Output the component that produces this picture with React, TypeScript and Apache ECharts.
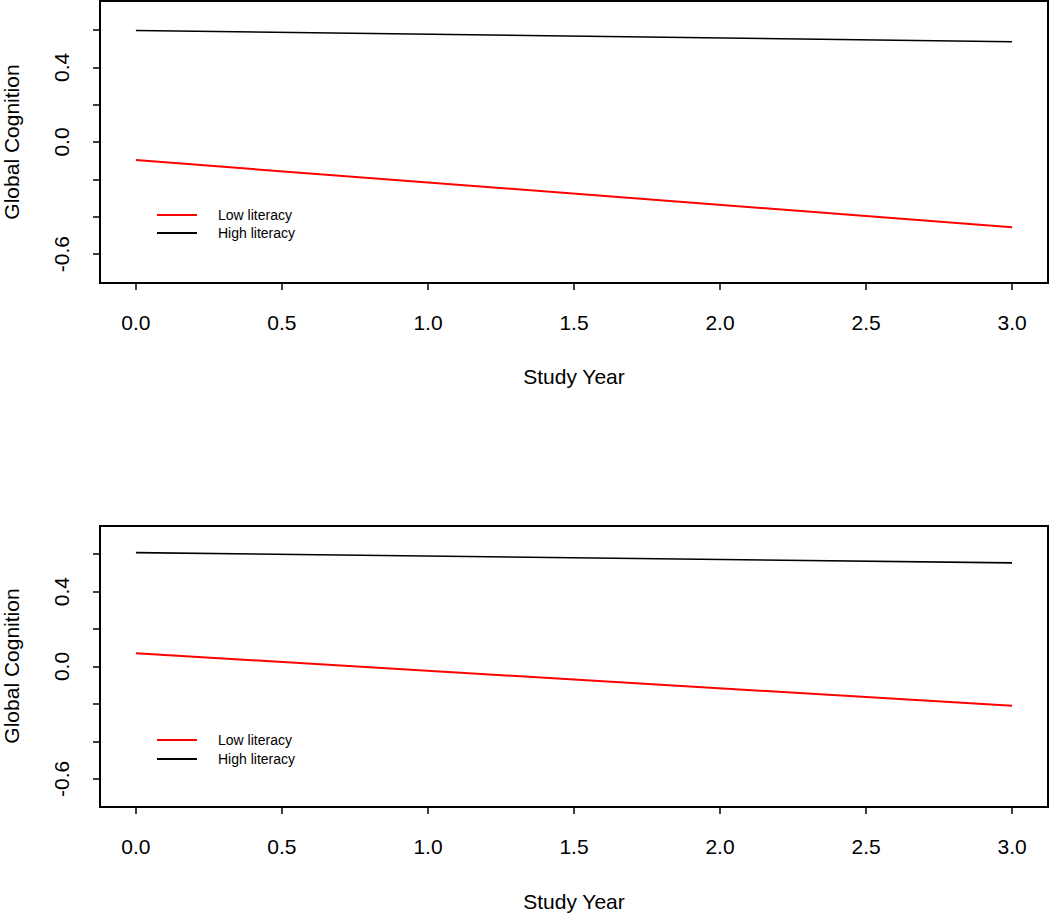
import React, { useEffect, useRef } from "react";
import * as echarts from "echarts";

const years = [0, 3];
const topLow = [-0.097, -0.456];
const topHigh = [0.597, 0.537];
const bottomLow = [0.071, -0.21];
const bottomHigh = [0.608, 0.553];
const seriesNames = ["Low literacy", "High literacy"];
const xTicks = [0, 0.5, 1, 1.5, 2, 2.5, 3];
const yTicks = [-0.6, -0.4, -0.2, 0, 0.2, 0.4, 0.6];
const yLabelTicks = [-0.6, 0, 0.4];

const FONT = "Liberation Sans, Arial, Helvetica, sans-serif";
const RED = "#ff0000";
const BLACK = "#000000";

const toPts = (vals: number[]) => years.map((x, i) => [x, vals[i]]);

export default function App() {
  const ref = useRef<HTMLDivElement>(null);
  useEffect(() => {
    document.body.style.margin = "0";
    if (!ref.current) return;
    const chart = echarts.init(ref.current, undefined, { renderer: "svg" });

    const grids = [
      { left: 100, top: 1, width: 948, height: 282 },
      { left: 100, top: 526, width: 948, height: 281 },
    ];
    const yRanges = [0.755, 0.75];

    const xAxis = grids.map((_, i) => ({
      type: "value",
      gridIndex: i,
      min: -0.123,
      max: 3.123,
      axisLine: { show: false, onZero: false },
      splitLine: { show: false },
      axisTick: {
        show: true,
        inside: false,
        length: 7,
        customValues: xTicks,
        lineStyle: { color: BLACK, width: 1.5 },
      },
      axisLabel: {
        show: true,
        customValues: xTicks,
        margin: 29,
        fontSize: 21,
        fontFamily: FONT,
        color: BLACK,
        formatter: (v: number) => v.toFixed(1),
      },
    }));

    const yAxis = grids.map((_, i) => ({
      type: "value",
      gridIndex: i,
      min: -yRanges[i],
      max: yRanges[i],
      axisLine: { show: false, onZero: false },
      splitLine: { show: false },
      axisTick: {
        show: true,
        inside: false,
        length: 7,
        customValues: yTicks,
        lineStyle: { color: BLACK, width: 1.5 },
      },
      axisLabel: {
        show: true,
        customValues: yLabelTicks,
        rotate: 90,
        margin: 28,
        fontSize: 21,
        fontFamily: FONT,
        color: BLACK,
        formatter: (v: number) => v.toFixed(1),
      },
    }));

    const panels = [
      { low: topLow, high: topHigh },
      { low: bottomLow, high: bottomHigh },
    ];
    const series: any[] = [];
    panels.forEach((p, i) => {
      series.push({
        type: "line",
        name: seriesNames[0],
        xAxisIndex: i,
        yAxisIndex: i,
        data: toPts(p.low),
        symbol: "none",
        lineStyle: { color: RED, width: 2 },
      });
      series.push({
        type: "line",
        name: seriesNames[1],
        xAxisIndex: i,
        yAxisIndex: i,
        data: toPts(p.high),
        symbol: "none",
        lineStyle: { color: BLACK, width: 1.6 },
      });
    });

    const graphic: any[] = [];
    const titleCfg = [
      { yMid: 142, xTitleY: 376 },
      { yMid: 666, xTitleY: 901 },
    ];
    titleCfg.forEach((c) => {
      graphic.push({
        type: "text",
        x: 11,
        y: c.yMid,
        rotation: Math.PI / 2,
        style: {
          text: "Global Cognition",
          fontSize: 21,
          fontFamily: FONT,
          fill: BLACK,
          align: "center",
          verticalAlign: "middle",
        },
      });
      graphic.push({
        type: "text",
        x: 574,
        y: c.xTitleY,
        style: {
          text: "Study Year",
          fontSize: 21,
          fontFamily: FONT,
          fill: BLACK,
          align: "center",
          verticalAlign: "middle",
        },
      });
    });
    const legendRows = [
      [215, 233],
      [740, 759],
    ];
    legendRows.forEach((rows) => {
      rows.forEach((ry, k) => {
        graphic.push({
          type: "line",
          shape: { x1: 157, y1: ry, x2: 197, y2: ry },
          style: { stroke: k === 0 ? RED : BLACK, lineWidth: 2 },
        });
        graphic.push({
          type: "text",
          x: 218,
          y: ry,
          style: {
            text: seriesNames[k],
            fontSize: 14,
            fontFamily: FONT,
            fill: BLACK,
            align: "left",
            verticalAlign: "middle",
          },
        });
      });
    });

    chart.setOption({
      animation: false,
      backgroundColor: "#ffffff",
      grid: grids.map((g) => ({
        ...g,
        show: true,
        borderColor: BLACK,
        borderWidth: 2,
        backgroundColor: "transparent",
      })),
      xAxis,
      yAxis,
      series,
      graphic,
    });
    return () => chart.dispose();
  }, []);
  return <div ref={ref} style={{ width: 1050, height: 913 }} />;
}
